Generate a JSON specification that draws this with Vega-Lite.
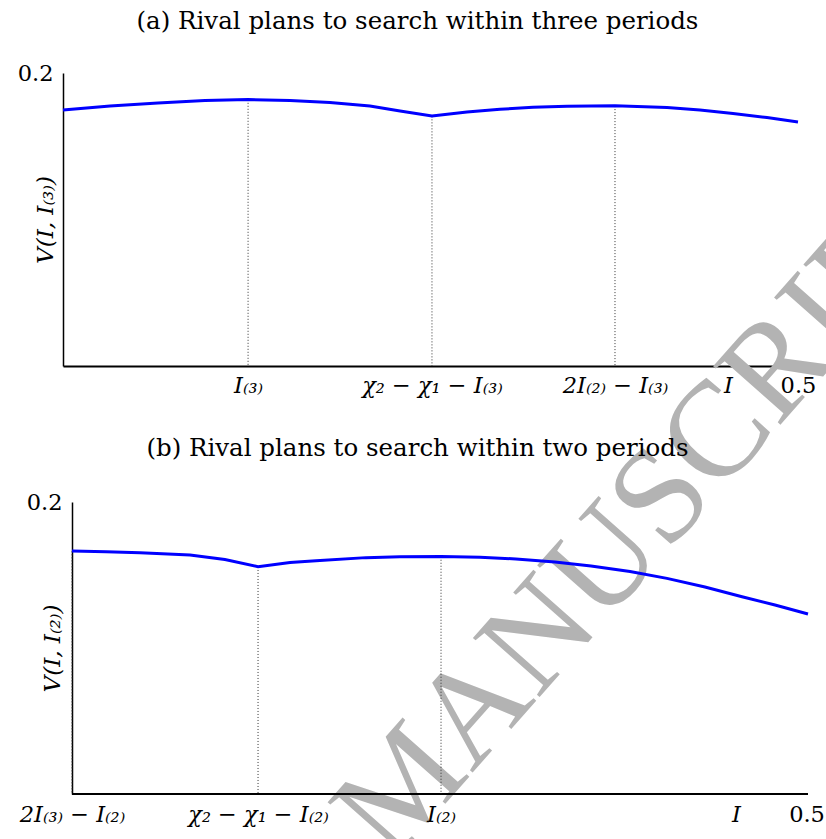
{
  "$schema": "https://vega.github.io/schema/vega-lite/v6.json",
  "padding": {"left": 17, "top": 8, "right": 0, "bottom": 0},
  "background": "white",
  "bounds": "flush",
  "spacing": 136,
  "config": {
    "view": {"stroke": null},
    "font": "DejaVu Serif",
    "title": {"font": "DejaVu Serif", "fontSize": 24.5, "fontWeight": "normal", "color": "black", "anchor": "middle", "frame": "group"},
    "axis": {
      "grid": false,
      "ticks": false,
      "domainColor": "black",
      "labelColor": "black",
      "titleColor": "black",
      "labelFont": "DejaVu Serif",
      "titleFont": "DejaVu Serif",
      "labelFontSize": 22.5,
      "titleFontSize": 23,
      "titleFontWeight": "normal",
      "titleFontStyle": "italic",
      "labelFlush": false,
      "labelOverlap": false,
      "labelBound": false
    }
  },
  "datasets": {
    "watermark": [
      {"label": "MANUSCRIPT", "x": 0.4003, "v": -0.0974}
    ],
    "curveA": [
      {"x": 0, "v": 0.1747}, {"x": 0.032, "v": 0.1775}, {"x": 0.0646, "v": 0.1795}, {"x": 0.0966, "v": 0.1812},
      {"x": 0.1259, "v": 0.1819}, {"x": 0.1544, "v": 0.1812}, {"x": 0.1816, "v": 0.1799}, {"x": 0.2088, "v": 0.1775},
      {"x": 0.2293, "v": 0.1741}, {"x": 0.251, "v": 0.1706}, {"x": 0.2748, "v": 0.1734}, {"x": 0.2973, "v": 0.1752},
      {"x": 0.3197, "v": 0.1766}, {"x": 0.3429, "v": 0.1773}, {"x": 0.3755, "v": 0.1776}, {"x": 0.4109, "v": 0.1765},
      {"x": 0.4333, "v": 0.1747}, {"x": 0.4558, "v": 0.1724}, {"x": 0.4789, "v": 0.1696}, {"x": 0.5, "v": 0.1666}
    ],
    "dotsA": [
      {"x": 0.1259, "v": 0.1817}, {"x": 0.251, "v": 0.1704}, {"x": 0.3755, "v": 0.1774}
    ],
    "curveB": [
      {"x": 0, "v": 0.1664}, {"x": 0.0231, "v": 0.1659}, {"x": 0.0462, "v": 0.1653}, {"x": 0.0802, "v": 0.1637},
      {"x": 0.1039, "v": 0.1606}, {"x": 0.1264, "v": 0.1557}, {"x": 0.1481, "v": 0.1586}, {"x": 0.1658, "v": 0.1598},
      {"x": 0.1997, "v": 0.1619}, {"x": 0.2228, "v": 0.1625}, {"x": 0.2507, "v": 0.1627}, {"x": 0.2772, "v": 0.1621},
      {"x": 0.3016, "v": 0.161}, {"x": 0.3281, "v": 0.1589}, {"x": 0.3526, "v": 0.1562}, {"x": 0.3791, "v": 0.1524},
      {"x": 0.4042, "v": 0.1477}, {"x": 0.43, "v": 0.1418}, {"x": 0.4552, "v": 0.1351}, {"x": 0.4776, "v": 0.1295},
      {"x": 0.5, "v": 0.1233}
    ],
    "dotsB": [
      {"x": 0, "v": 0.1662}, {"x": 0.1264, "v": 0.1555}, {"x": 0.2507, "v": 0.1625}
    ],
    "axisB": [
      {"x": 0, "x2": 0.5, "v": 0}
    ]
  },
  "vconcat": [
    {
      "title": {"text": "(a) Rival plans to search within three periods", "offset": 28, "dx": -13},
      "width": 735,
      "height": 293,
      "layer": [
        {
          "data": {"name": "watermark"},
          "mark": {"type": "text", "font": "Liberation Serif", "fontSize": 136, "color": "#b3b3b3", "angle": -48.5, "align": "center", "baseline": "middle"},
          "encoding": {
            "x": {"field": "x", "type": "quantitative"},
            "y": {"field": "v", "type": "quantitative"},
            "text": {"field": "label"}
          }
        },
        {
          "data": {"name": "dotsA"},
          "mark": {"type": "rule", "color": "#333333", "strokeWidth": 1, "strokeDash": [1, 2]},
          "encoding": {
            "x": {"field": "x", "type": "quantitative"},
            "y": {"field": "v", "type": "quantitative"},
            "y2": {"datum": 0}
          }
        },
        {
          "data": {"name": "curveA"},
          "mark": {"type": "line", "color": "#0000ff", "strokeWidth": 3},
          "encoding": {
            "x": {
              "field": "x", "type": "quantitative",
              "scale": {"domain": [0, 0.5], "nice": false, "zero": false},
              "axis": {
                "title": null, "domainWidth": 2, "labelPadding": 8,
                "values": [0.1259, 0.251, 0.3755, 0.4524, 0.5],
                "labelExpr": "datum.value < 0.2 ? 'I₍₃₎' : datum.value < 0.3 ? 'χ₂ − χ₁ − I₍₃₎' : datum.value < 0.4 ? '2I₍₂₎ − I₍₃₎' : datum.value < 0.49 ? 'I' : '0.5'",
                "labelFontStyle": {"condition": {"test": "datum.value < 0.49", "value": "italic"}, "value": "normal"}
              }
            },
            "y": {
              "field": "v", "type": "quantitative",
              "scale": {"domain": [0, 0.2], "nice": false, "zero": false},
              "axis": {
                "title": "V(I, I₍₃₎)", "titlePadding": -40, "domainWidth": 1.5, "labelPadding": 10,
                "values": [0.2], "format": ".1f"
              }
            }
          }
        }
      ]
    },
    {
      "title": {"text": "(b) Rival plans to search within two periods", "offset": 30, "dx": -18},
      "width": 745,
      "height": 292,
      "layer": [
        {
          "data": {"name": "axisB"},
          "mark": {"type": "rule", "color": "black", "strokeWidth": 2},
          "encoding": {
            "x": {"field": "x", "type": "quantitative"},
            "x2": {"field": "x2"},
            "y": {"field": "v", "type": "quantitative"}
          }
        },
        {
          "data": {"name": "dotsB"},
          "mark": {"type": "rule", "color": "#333333", "strokeWidth": 1, "strokeDash": [1, 2]},
          "encoding": {
            "x": {"field": "x", "type": "quantitative"},
            "y": {"field": "v", "type": "quantitative"},
            "y2": {"datum": 0}
          }
        },
        {
          "data": {"name": "curveB"},
          "mark": {"type": "line", "color": "#0000ff", "strokeWidth": 3},
          "encoding": {
            "x": {
              "field": "x", "type": "quantitative",
              "scale": {"domain": [-0.0061, 0.5], "nice": false, "zero": false},
              "axis": {
                "title": null, "domain": false, "labelPadding": 9,
                "values": [0, 0.1264, 0.2507, 0.4511, 0.499],
                "labelExpr": "datum.value < 0.05 ? '2I₍₃₎ − I₍₂₎' : datum.value < 0.2 ? 'χ₂ − χ₁ − I₍₂₎' : datum.value < 0.3 ? 'I₍₂₎' : datum.value < 0.49 ? 'I' : '0.5'",
                "labelFontStyle": {"condition": {"test": "datum.value < 0.49", "value": "italic"}, "value": "normal"}
              }
            },
            "y": {
              "field": "v", "type": "quantitative",
              "scale": {"domain": [0, 0.2], "nice": false, "zero": false},
              "axis": {
                "title": "V(I, I₍₂₎)", "titlePadding": -38, "domainWidth": 1.5, "labelPadding": 10, "offset": -9,
                "values": [0.2], "format": ".1f"
              }
            }
          }
        }
      ]
    }
  ]
}
